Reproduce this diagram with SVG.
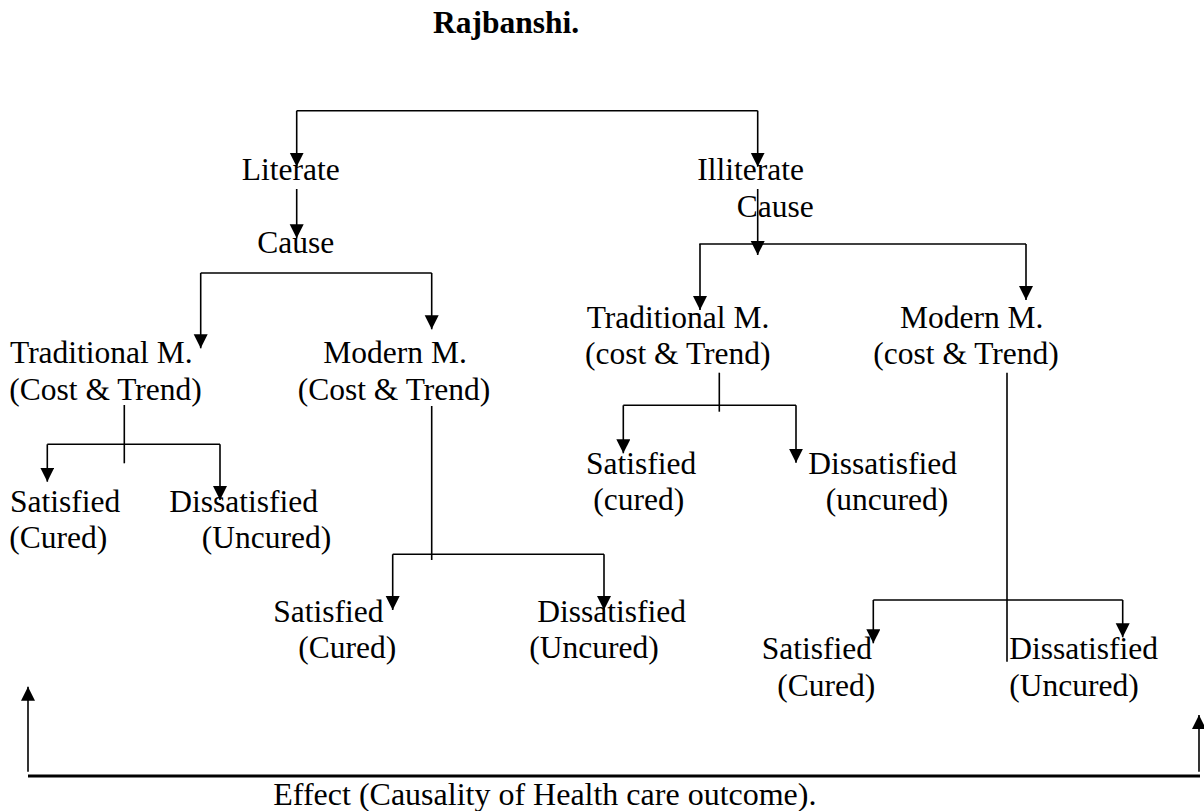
<svg xmlns="http://www.w3.org/2000/svg" width="1204" height="811" viewBox="0 0 1204 811">
<style>
text{font-family:"Liberation Serif","Times New Roman",serif;font-size:31.5px;fill:#000}
.title{font-weight:bold}
.c path{fill:none;stroke:#000;stroke-width:1.6}
.c path.arr{marker-end:url(#ah)}
.c path.base{stroke-width:3}
</style>
<defs>
<marker id="ah" markerUnits="userSpaceOnUse" markerWidth="15" markerHeight="15" refX="14" refY="7" orient="auto">
<path d="M0,0 L14,7 L0,14 z" fill="#000"/>
</marker>
</defs>
<rect width="1204" height="811" fill="#fff"/>
<g id="title"><text class="title" x="433" y="33">Rajbanshi.</text></g>
<g class="c" id="connectors">
<path d="M296.7,110.7 H757.7"/>
<path class="arr" d="M296.7,110.7 V166.7"/>
<path class="arr" d="M757.7,110.7 V166.7"/>
<path class="arr" d="M296.7,189 V238.3"/>
<path d="M200.7,273 H431.7"/>
<path class="arr" d="M200.7,273 V348.3"/>
<path class="arr" d="M431.7,273 V329.3"/>
<path class="arr" d="M757.7,189 V255"/>
<path d="M699.3,244 H1026"/>
<path class="arr" d="M700,244 V310"/>
<path class="arr" d="M1026,244 V300"/>
<path d="M124.3,405 V463.3"/>
<path d="M47.3,444.3 H220"/>
<path class="arr" d="M47.3,444.3 V481.7"/>
<path class="arr" d="M220,444.3 V500"/>
<path d="M431.7,406 V560"/>
<path d="M392.7,554.3 H604"/>
<path class="arr" d="M392.7,554.3 V610"/>
<path class="arr" d="M604,554.3 V610"/>
<path d="M719.3,372.7 V411.7"/>
<path d="M623.3,405.3 H796"/>
<path class="arr" d="M623.3,405.3 V453.3"/>
<path class="arr" d="M796,405.3 V462.7"/>
<path d="M1007,372.7 V661.7"/>
<path d="M873.3,600 H1122.7"/>
<path class="arr" d="M873.3,600 V643.3"/>
<path class="arr" d="M1122.7,600 V637.3"/>
<path class="base" d="M28,776 H1200"/>
<path class="arr" d="M28,771.7 V686.7"/>
<path class="arr" d="M1199,771.7 V715"/>
</g>
<g id="literate"><text x="241.7" y="180">Literate</text></g>
<g id="cause-left"><text x="257.3" y="253.3">Cause</text></g>
<g id="illiterate"><text x="697.3" y="180">Illiterate</text></g>
<g id="cause-right"><text x="736.7" y="216.7">Cause</text></g>
<g id="trad-left"><text x="10" y="363.3">Traditional M.</text><text x="9.3" y="400">(Cost &amp; Trend)</text></g>
<g id="modern-left"><text x="323.3" y="363.3">Modern M.</text><text x="297.7" y="400">(Cost &amp; Trend)</text></g>
<g id="trad-right"><text x="586.7" y="328.3">Traditional M.</text><text x="585" y="364.3">(cost &amp; Trend)</text></g>
<g id="modern-right"><text x="900" y="328.3">Modern M.</text><text x="873.3" y="364.3">(cost &amp; Trend)</text></g>
<g id="sat-tl"><text x="10" y="511.7">Satisfied</text><text x="9.3" y="548">(Cured)</text></g>
<g id="dis-tl"><text x="169.3" y="511.7">Dissatisfied</text><text x="201.7" y="548">(Uncured)</text></g>
<g id="sat-ml"><text x="273.3" y="621.7">Satisfied</text><text x="298.3" y="658.3">(Cured)</text></g>
<g id="dis-ml"><text x="537.3" y="621.7">Dissatisfied</text><text x="529.3" y="658.3">(Uncured)</text></g>
<g id="sat-tr"><text x="586" y="474">Satisfied</text><text x="593.3" y="510">(cured)</text></g>
<g id="dis-tr"><text x="808.3" y="474">Dissatisfied</text><text x="825.7" y="510">(uncured)</text></g>
<g id="sat-mr"><text x="761.7" y="659.3">Satisfied</text><text x="777.3" y="695.7">(Cured)</text></g>
<g id="dis-mr"><text x="1009.3" y="659.3">Dissatisfied</text><text x="1009.3" y="695.7">(Uncured)</text></g>
<g id="effect"><text x="273.3" y="805" style="font-size:32px">Effect (Causality of Health care outcome).</text></g>
</svg>
